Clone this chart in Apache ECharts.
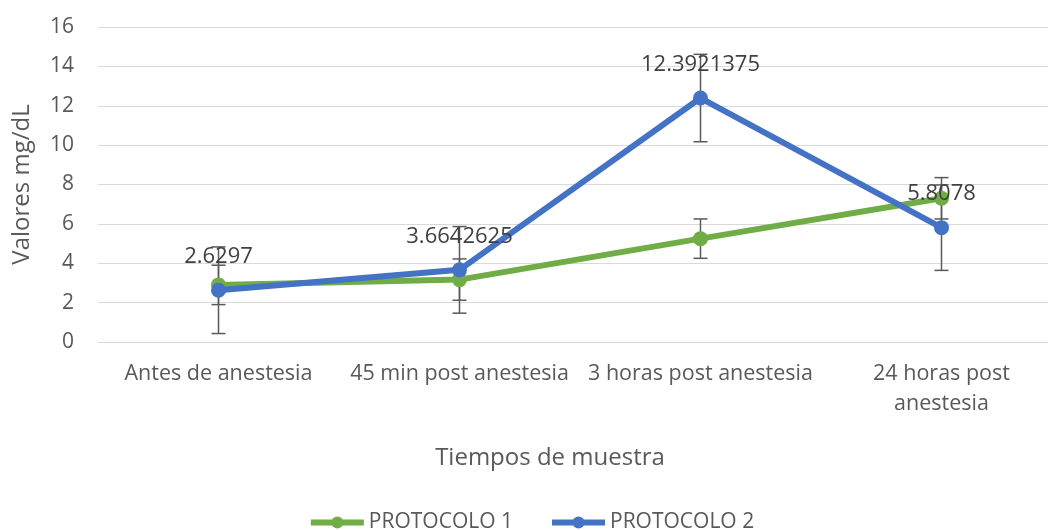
<!DOCTYPE html>
<html>
<head>
<meta charset="utf-8">
<script src="https://cdn.jsdelivr.net/npm/echarts@6/dist/echarts.min.js"></script>
<style>
html,body{margin:0;padding:0;background:#fff;overflow:hidden;width:1048px;height:530px;}
#chart{width:1062px;height:530px;}
</style>
</head>
<body>
<div id="chart"></div>
<script>
const categories = ['Antes de anestesia', '45 min post anestesia', '3 horas post anestesia', '24 horas post anestesia'];
const protocolo1 = [2.9, 3.17, 5.25, 7.3];
const protocolo1Err = [1.0, 1.05, 1.0, 1.05];
const protocolo2 = [2.6297, 3.6642625, 12.3921375, 5.8078];
const protocolo2Err = [2.2, 2.2, 2.22, 2.17];
const yTicks = { min: 0, max: 16, interval: 2 };

const font = 'Open Sans';
const textColor = '#595959';

function errData(vals, errs) {
  return vals.map((v, i) => [i, v - errs[i], v + errs[i]]);
}
function renderErr(params, api) {
  const x = api.value(0);
  const lo = api.coord([x, api.value(1)]);
  const hi = api.coord([x, api.value(2)]);
  const cap = 7;
  const style = { stroke: '#595959', lineWidth: 1.5 };
  return {
    type: 'group',
    children: [
      { type: 'line', shape: { x1: lo[0], y1: lo[1], x2: hi[0], y2: hi[1] }, style },
      { type: 'line', shape: { x1: lo[0] - cap, y1: lo[1], x2: lo[0] + cap, y2: lo[1] }, style },
      { type: 'line', shape: { x1: hi[0] - cap, y1: hi[1], x2: hi[0] + cap, y2: hi[1] }, style }
    ]
  };
}

const chart = echarts.init(document.getElementById('chart'), null, { renderer: 'canvas' });
chart.setOption({
  animation: false,
  backgroundColor: '#ffffff',
  textStyle: { fontFamily: font },
  grid: { left: 98, right: 0, top: 27, height: 315, containLabel: false },
  legend: {
    data: ['PROTOCOLO 1', 'PROTOCOLO 2'],
    left: 'center',
    top: 507,
    itemWidth: 53,
    itemHeight: 15,
    itemGap: 36,
    lineStyle: { width: 6 },
    textStyle: { color: textColor, fontSize: 21, fontFamily: font }
  },
  xAxis: {
    type: 'category',
    data: categories,
    boundaryGap: true,
    name: 'Tiempos de muestra',
    nameLocation: 'middle',
    nameGap: 104,
    nameTextStyle: { color: textColor, fontSize: 24, fontFamily: font, padding: [0, 60, 0, 0] },
    axisLine: { lineStyle: { color: '#d9d9d9', width: 1 } },
    axisTick: { show: false },
    axisLabel: {
      color: textColor, fontSize: 21.5, fontFamily: font, margin: 17, lineHeight: 30, interval: 0,
      formatter: v => v === '24 horas post anestesia' ? '24 horas post\nanestesia' : v
    }
  },
  yAxis: {
    type: 'value',
    min: yTicks.min, max: yTicks.max, interval: yTicks.interval,
    name: 'Valores mg/dL',
    nameLocation: 'middle',
    nameGap: 64,
    nameRotate: 90,
    nameTextStyle: { color: textColor, fontSize: 24, fontFamily: font },
    axisLine: { show: false },
    axisTick: { show: false },
    splitLine: { lineStyle: { color: '#d9d9d9', width: 1 } },
    axisLabel: { color: textColor, fontSize: 21, fontFamily: font, margin: 24 }
  },
  series: [
    {
      name: 'err1', type: 'custom', renderItem: renderErr, data: errData(protocolo1, protocolo1Err),
      z: 1, silent: true, encode: { x: 0, y: [1, 2] }
    },
    {
      name: 'err2', type: 'custom', renderItem: renderErr, data: errData(protocolo2, protocolo2Err),
      z: 1, silent: true, encode: { x: 0, y: [1, 2] }
    },
    {
      name: 'PROTOCOLO 1', type: 'line', data: protocolo1, z: 3,
      symbol: 'circle', symbolSize: 15,
      lineStyle: { color: '#70AD47', width: 6 },
      itemStyle: { color: '#70AD47' }
    },
    {
      name: 'PROTOCOLO 2', type: 'line', data: protocolo2, z: 4,
      symbol: 'circle', symbolSize: 15,
      lineStyle: { color: '#4472C4', width: 6 },
      itemStyle: { color: '#4472C4' },
      label: {
        show: true, position: 'top', distance: 15,
        color: '#404040', fontSize: 22, fontFamily: font,
        formatter: p => String(p.value)
      }
    }
  ]
});
</script>
</body>
</html>
